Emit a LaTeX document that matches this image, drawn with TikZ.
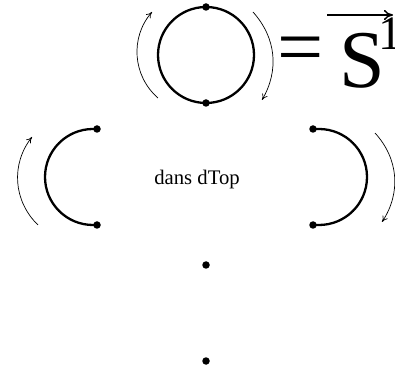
\documentclass[tikz,border=0pt]{standalone}
\usepackage{fontspec}
\setmainfont{Liberation Serif}
\usetikzlibrary{arrows.meta}

\begin{document}
\begin{tikzpicture}[
    x=1pt, y=1pt,
    loop/.style={line width=2.3pt},
    turn/.style={line width=0.7pt, -{To[length=6pt,width=6pt]}},
    pt/.style={circle, fill=black, inner sep=0pt, minimum size=7.5pt},
    big/.style={font=\fontsize{82}{82}\selectfont, inner sep=0pt}
  ]
    \useasboundingbox (0,0) rectangle (395,374);
    % the circle and its two points
    \draw[loop] (206,319) circle[radius=48];
    \node[pt] (ctop) at (206,367) {};
    \node[pt] (cbot) at (206,271) {};
    \node[big] (eq) at (301,318) {=};
    \node[big, anchor=base west] (sym) at (339,286) {S};
    \node[font=\fontsize{48}{48}\selectfont, inner sep=0pt, anchor=base west] (idx) at (378,324) {1};
    \coordinate (vec1) at (327,359);
    \coordinate (vec2) at (393,359);
    \draw[line width=1.5pt, -{To[length=9pt,width=10pt]}] (vec1) -- (vec2);
    % rotation arrows round the circle
    \coordinate (la1) at (158,276);
    \coordinate (la2) at (152,362);
    \coordinate (ra1) at (253,362);
    \coordinate (ra2) at (262,274);
    \draw[turn] (la1) to[bend left=45] (la2);
    \draw[turn] (ra1) to[bend left=36] (ra2);

    % the two half circles
    \node[pt] (ltop) at (97,245) {};
    \node[pt] (lbot) at (97,149) {};
    \node[pt] (rtop) at (313,245) {};
    \node[pt] (rbot) at (313,149) {};
    \draw[loop] (ltop.center) -- (93,245) arc[start angle=90, end angle=270, radius=48] -- (lbot.center);
    \draw[loop] (rtop.center) -- (319,245) arc[start angle=90, end angle=-90, radius=48] -- (rbot.center);
    \node[font=\fontsize{20.7}{24}\selectfont] (lbl) at (197,194) {dans dTop};
    \coordinate (lb1) at (38,149);
    \coordinate (lb2) at (32,237);
    \coordinate (rb1) at (375,241);
    \coordinate (rb2) at (382,152);
    \draw[turn] (lb1) to[bend left=42] (lb2);
    \draw[turn] (rb1) to[bend left=38] (rb2);

    % points below
    \node[pt] (p1) at (206,109) {};
    \node[pt] (p2) at (206,13) {};
  \end{tikzpicture}
\end{document}
